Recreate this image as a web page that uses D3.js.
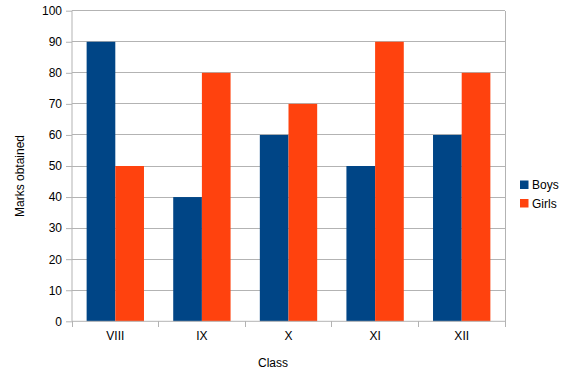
<!DOCTYPE html>
<html><head><meta charset="utf-8">
<script src="https://cdn.jsdelivr.net/npm/d3@7"></script>
<style>body{margin:0;background:#fff}svg{display:block;font-family:"Liberation Sans",Arial,sans-serif}</style>
</head><body><svg id="c" width="574" height="383"></svg>
<script>
const categories = ["VIII","IX","X","XI","XII"];
const seriesNames = ["Boys","Girls"];
const boys = [90,40,60,50,60];
const girls = [50,80,70,90,80];
const yTicks = [0,10,20,30,40,50,60,70,80,90,100];
const colors = ["#004586","#ff420e"];

const svg = d3.select("#c");
const m = {l:72, r:505, t:10.7, b:321.3};
const x = d3.scaleBand().domain(categories).range([m.l, m.r]).paddingInner(0).paddingOuter(0);
const y = d3.scaleLinear().domain([0,100]).range([m.b, m.t]);
const xs = d3.scaleBand().domain(seriesNames).range([0, x.bandwidth()]).paddingInner(0).paddingOuter(0.51);

// grid
svg.append("g").selectAll("line").data(yTicks.filter(d=>d>0)).join("line")
  .attr("x1", m.l).attr("x2", m.r).attr("y1", d=>y(d)).attr("y2", d=>y(d))
  .attr("stroke","#b3b3b3").attr("stroke-width",1).attr("shape-rendering","crispEdges");
// right border
svg.append("line").attr("x1",m.r).attr("x2",m.r).attr("y1",m.t).attr("y2",m.b)
  .attr("stroke","#b3b3b3").attr("shape-rendering","crispEdges");

// bars
const data = [boys, girls];
const g = svg.append("g");
categories.forEach((c,i)=>{
  seriesNames.forEach((s,j)=>{
    g.append("rect").attr("x", x(c)+xs(s)).attr("width", xs.bandwidth())
      .attr("y", y(data[j][i])).attr("height", y(0)-y(data[j][i]))
      .attr("fill", colors[j]);
  });
});

// y axis
const ya = svg.append("g").attr("transform",`translate(${m.l},0)`)
  .call(d3.axisLeft(y).tickValues(yTicks).tickSize(6).tickPadding(4));
ya.select(".domain").attr("stroke","#b3b3b3").attr("d",`M0,${m.t}V${m.b}`);
ya.selectAll(".tick line").attr("stroke","#b3b3b3");
ya.selectAll("text").attr("font-size",12).attr("fill","#000").attr("font-family","Liberation Sans, Arial, sans-serif");

// x axis
const xa = svg.append("g").attr("transform",`translate(0,${m.b})`)
  .call(d3.axisBottom(x).tickSize(0).tickPadding(10));
xa.select(".domain").attr("stroke","#b3b3b3").attr("d",`M${m.l},0H${m.r}`);
xa.selectAll("text").attr("font-size",12).attr("fill","#000").attr("font-family","Liberation Sans, Arial, sans-serif");
// category boundary ticks
const bounds = categories.map(c=>x(c)).concat([m.r]);
svg.append("g").selectAll("line").data(bounds).join("line")
  .attr("x1",d=>d).attr("x2",d=>d).attr("y1",m.b).attr("y2",m.b+6)
  .attr("stroke","#b3b3b3").attr("shape-rendering","crispEdges");

// axis titles
svg.append("text").attr("x",273).attr("y",367).attr("text-anchor","middle")
  .attr("font-size",12).text("Class");
svg.append("text").attr("transform","translate(24,176) rotate(-90)").attr("text-anchor","middle")
  .attr("font-size",12).text("Marks obtained");

// legend
const lg = svg.append("g");
seriesNames.forEach((s,j)=>{
  lg.append("rect").attr("x",520).attr("y",180.5+j*18.5).attr("width",8.5).attr("height",8.5).attr("fill",colors[j]);
  lg.append("text").attr("x",532).attr("y",189+j*18.5).attr("font-size",12).text(s);
});
</script></body></html>
